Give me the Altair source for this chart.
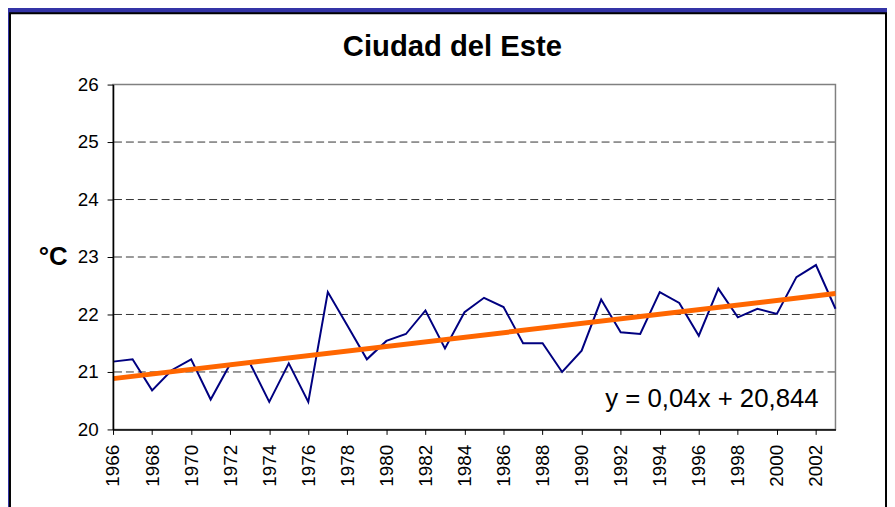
import altair as alt
import pandas as pd

# ---- data ----
years = list(range(1966, 2004))
temps = [21.18, 21.22, 20.68, 21.03, 21.22, 20.52, 21.14, 21.16, 20.48, 21.15,
         20.48, 22.39, 21.81, 21.22, 21.54, 21.66, 22.07, 21.41, 22.04, 22.29,
         22.13, 21.50, 21.50, 21.00, 21.37, 22.26, 21.69, 21.66, 22.39, 22.20,
         21.63, 22.45, 21.95, 22.10, 22.01, 22.65, 22.86, 22.10]
trend_years = [1966, 2003]
trend_vals = [20.884, 22.364]
y_ticks = [20, 21, 22, 23, 24, 25, 26]
grid_vals = [21, 22, 23, 24, 25]
title_text = "Ciudad del Este"
y_label = "°C"
equation = "y = 0,04x + 20,844"

FONT = "Liberation Sans, Arial, sans-serif"
W, H = 729, 348

df = pd.DataFrame({"year": years, "temp": temps})
df_trend = pd.DataFrame({"year": trend_years, "temp": trend_vals})
df_grid = pd.DataFrame({"g": grid_vals})
df_one = pd.DataFrame({"k": [0]})

xscale = alt.Scale(domain=[1966, 2003], nice=False, zero=False)
yscale = alt.Scale(domain=[20, 26], nice=False, zero=False)

x_axis = alt.Axis(values=years, labelExpr="datum.value % 2 == 0 ? datum.value : ''",
                  format="d", labelAngle=-90, labelFontSize=19, labelFont=FONT,
                  labelColor="black", labelPadding=10, labelOverlap=False,
                  labelFlush=False, labelBound=False, tickSize=5, tickColor="black",
                  domainColor="black", domainWidth=1.5, grid=False, title=None, zindex=1)
y_axis = alt.Axis(values=y_ticks, format="d", labelFontSize=19, labelFont=FONT,
                  labelColor="black", labelPadding=9, tickSize=6, tickColor="black",
                  domainColor="black", domainWidth=1.5, grid=False, title=y_label,
                  titleAngle=0, titleFontSize=26, titleFontWeight="bold", titleFont=FONT,
                  titleColor="black", titleX=-61, titleY=174, titleAlign="center",
                  titleBaseline="middle", zindex=1)

panel = alt.Chart(df_one).mark_rect(fill="white", stroke="black", strokeWidth=2).encode(
    x=alt.value(-104), x2=alt.value(780), y=alt.value(-72), y2=alt.value(440))

grid = alt.Chart(df_grid).mark_rule(color="#333333", strokeWidth=1, strokeDash=[8, 4]).encode(
    y=alt.Y("g:Q", scale=yscale, axis=y_axis))

border = alt.Chart(df_one).mark_rect(fill="transparent", stroke="#808080", strokeWidth=1.5).encode(
    x=alt.value(0), x2=alt.value(W), y=alt.value(0), y2=alt.value(H))

line = alt.Chart(df).mark_line(color="#000080", strokeWidth=2).encode(
    x=alt.X("year:Q", scale=xscale, axis=x_axis),
    y=alt.Y("temp:Q", scale=yscale, axis=y_axis))

trend = alt.Chart(df_trend).mark_line(color="#FF6600", strokeWidth=5).encode(
    x=alt.X("year:Q", scale=xscale),
    y=alt.Y("temp:Q", scale=yscale))

eq = alt.Chart(df_one).mark_text(text=equation, fontSize=26, font=FONT, color="black",
                                 align="right", baseline="alphabetic").encode(
    x=alt.value(712), y=alt.value(325))

chart = alt.layer(panel, grid, border, line, trend, eq).properties(
    width=W, height=H,
    title=alt.TitleParams(title_text, fontSize=29.5, fontWeight="bold", font=FONT,
                          color="black", anchor="middle", offset=0, dx=-22, dy=74,
                          baseline="alphabetic"),
    autosize=alt.AutoSizeParams(type="none"),
    padding={"left": 106, "top": 75, "right": 52, "bottom": 76},
    background="#3434A6",
).configure_view(stroke="transparent")

chart.save("out.html", embed_options={"renderer": "svg", "actions": False})
